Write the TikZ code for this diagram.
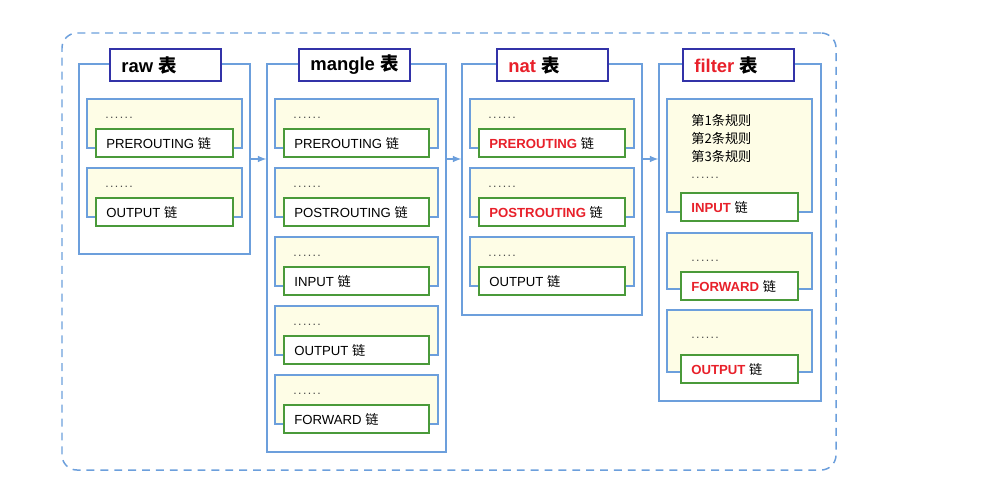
\documentclass[tikz,border=0pt]{standalone}
\usepackage{fontspec}
\setmainfont{Liberation Sans}
\newfontfamily\cjk{Noto Sans CJK SC}
\usepackage{tikz}
\usetikzlibrary{fit}
\definecolor{ipt-blue}{HTML}{6C9FDC}
\definecolor{ipt-navy}{HTML}{3232A8}
\definecolor{ipt-green}{HTML}{4A9A3A}
\definecolor{ipt-yellow}{HTML}{FEFDE6}
\definecolor{ipt-red}{HTML}{E8202A}

\begin{document}
\begin{tikzpicture}[x=0.02cm, y=-0.02cm,
  group box/.style={draw=ipt-blue, dash pattern=on 4.5pt off 3.4pt, line width=0.85pt, rounded corners=0.3cm, inner sep=0pt},
  table box/.style={draw=ipt-blue, fill=white, line width=0.7pt, inner sep=0pt},
  title box/.style={draw=ipt-navy, fill=white, line width=0.9pt, inner sep=0pt},
  title text/.style={anchor=west, inner sep=0pt, font=\fontsize{10.5}{12}\selectfont\bfseries},
  rule box/.style={draw=ipt-blue, fill=ipt-yellow, line width=0.7pt, inner sep=0pt},
  chain box/.style={draw=ipt-green, fill=white, line width=0.8pt, inner sep=0pt},
  chain text/.style={anchor=west, inner sep=0pt, font=\fontsize{7.5}{9}\selectfont},
  dots text/.style={anchor=base west, inner sep=0pt, text=black!70, font=\fontsize{7}{8}\selectfont},
  flow/.style={draw=ipt-blue, line width=0.7pt, -latex}]
\useasboundingbox (0,0) rectangle (999,483);
\node[group box, fit={(62,33) (836,470)}] (netfilter) {};
\foreach \tbl/\xl/\xr/\yb/\tx/\ttl in {
    raw/79/250/254/110/raw,
    mangle/267/446/452/299/mangle,
    nat/462/642/315/497/\textcolor{ipt-red}{nat},
    filter/659/821/401/683/\textcolor{ipt-red}{filter}} {
  \node[table box, fit={(\xl,64) (\xr,\yb)}] (\tbl) {};
  \node[title box, fit={(\tx,49) (\tx+111,81)}] (\tbl-title) {};
  \node[title text] (\tbl-name) at (\tx+11,65) {\ttl\ {\cjk 表}};
}
\foreach \tbl/\xl/\xr/\k/\name/\chain in {
    raw/79/250/0/pre/PREROUTING,
    raw/79/250/1/out/OUTPUT,
    mangle/267/446/0/pre/PREROUTING,
    mangle/267/446/1/post/POSTROUTING,
    mangle/267/446/2/in/INPUT,
    mangle/267/446/3/out/OUTPUT,
    mangle/267/446/4/fwd/FORWARD,
    nat/462/642/0/pre/\textcolor{ipt-red}{\textbf{PREROUTING}},
    nat/462/642/1/post/\textcolor{ipt-red}{\textbf{POSTROUTING}},
    nat/462/642/2/out/OUTPUT} {
  \node[rule box, fit={(\xl+8,99+69*\k) (\xr-8,148+69*\k)}] (\tbl-\name-rules) {};
  \node[dots text] (\tbl-\name-dots) at (\xl+26,118+69*\k)
    {.\kern.8pt.\kern.8pt.\kern.8pt.\kern.8pt.\kern.8pt.};
  \node[chain box, fit={(\xl+17,129+69*\k) (\xr-17,157+69*\k)}] (\tbl-\name) {};
  \node[chain text] (\tbl-\name-text) at (\xl+27,143+69*\k) {\chain\ {\cjk 链}};
}
\foreach \name/\ry/\rb/\cy/\dy/\chain in {
    in/99/212/193/178/INPUT,
    fwd/233/289/272/261/FORWARD,
    out/310/372/355/338/OUTPUT} {
  \node[rule box, fit={(667,\ry) (812,\rb)}] (filter-\name-rules) {};
  \node[dots text] (filter-\name-dots) at (691,\dy)
    {.\kern.8pt.\kern.8pt.\kern.8pt.\kern.8pt.\kern.8pt.};
  \node[chain box, fit={(681,\cy) (798,\cy+28)}] (filter-\name) {};
  \node[chain text] (filter-\name-text) at (691,\cy+14)
    {\textcolor{ipt-red}{\textbf{\chain}}\ {\cjk 链}};
}
\foreach \i in {1,2,3}
  \node[chain text] (filter-rule-\i) at (691,102+18*\i) {\cjk 第\i 条规则};
\draw[flow] (raw.east) -- (mangle.west |- raw.east);
\draw[flow] (mangle.east |- raw.east) -- (nat.west |- raw.east);
\draw[flow] (nat.east |- raw.east) -- (filter.west |- raw.east);
\end{tikzpicture}
\end{document}
